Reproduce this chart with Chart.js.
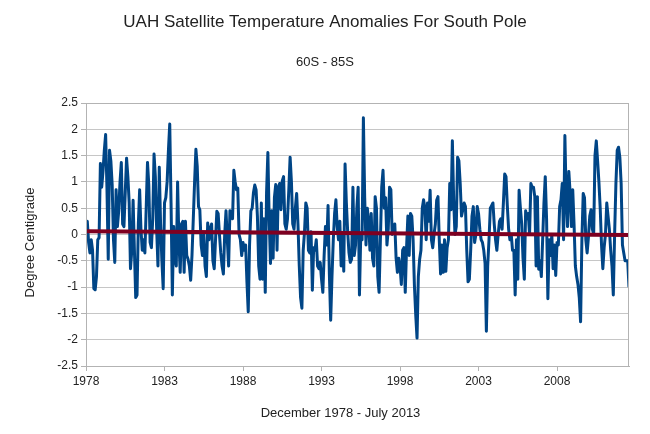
<!DOCTYPE html>
<html>
<head>
<meta charset="utf-8">
<title>UAH Satellite Temperature Anomalies For South Pole</title>
<script src="https://cdn.jsdelivr.net/npm/chart.js@4.4.0/dist/chart.umd.min.js"></script>
<style>
  html, body { margin: 0; padding: 0; background: #fff; }
  #wrap { width: 650px; height: 434px; }
</style>
</head>
<body>
<div id="wrap"><canvas id="uahChart" width="650" height="434"></canvas></div>
<script>
// Monthly anomalies 60S-85S, Dec 1978 - Jul 2013
const anomalies = [
    // Dec 1978 - Apr 1984
    0.2, 0.25, -0.15, -0.35, -0.1, -0.3, -1.03, -1.05, -0.8, -0.1,
    -0.06, 1.35, 0.9, 1.2, 1.6, 1.9, 0.9, -0.47, 1.6, 1.4,
    0.95, -0.1, -0.53, 0.85, 0.15, 0.45, 1.0, 1.37, 0.2, 0.15,
    0.8, 1.45, 1.1, 0.6, -0.65, -0.3, 0.65, -0.3, -1.2, -1.15,
    0.2, 0.85, 0.1, -0.3, -0.1, -0.35, 0.5, 1.37, 0.95, -0.15,
    -0.25, 0.3, 1.53, 1.1, 0.1, -0.6, 1.28, 0.2, -0.5, -1.03,
    0.6, 0.7, 1.0, 1.6, 2.1,
    // May 1984 - Jan 1990
    0.6, -1.15, 0.15, -0.45, -0.6, 1.0, -0.1, -0.72, 0.2, 0.25,
    -0.72, 0.25, -0.4, -0.47, -0.6, -0.87, -0.4, 0.3, 1.0, 1.62,
    1.3, 0.53, 0.47, -0.2, -0.4, 0.0, -0.6, -0.8, 0.22, -0.1,
    0.1, 0.2, -0.5, -0.65, -0.1, 0.44, 0.4, 0.0, -0.35, -0.6,
    -0.75, 0.0, 0.45, -0.1, -0.6, 0.45, 0.35, 0.3, 1.22, 1.0,
    0.85, 0.88, 0.0, -0.1, -0.4, -0.15, -0.3, -0.2, -0.9, -1.47,
    -0.2, 0.45, 0.5, 0.8, 0.94, 0.85, 0.35, -0.6, -0.85,
    // Feb 1990 - Oct 1995
    0.6, -0.85, 0.3, -1.1, 0.8, 1.56, 0.3, -0.55, 0.45, -0.45,
    0.7, 0.95, -0.3, 0.9, 0.97, 0.47, 1.02, 1.1, 0.2, 0.1,
    0.3, 0.85, 1.47, 1.0, 0.2, 0.1, 0.5, 0.78, 0.2, -0.6,
    -1.2, -1.4, -0.3, 0.05, 0.6, 0.5, -0.3, -0.35, 0.05, -1.06,
    -0.25, -0.3, -0.1, -0.6, -0.65, -0.53, -0.85, -1.1, -0.4, 0.15,
    -0.2, 0.55, -0.75, -1.63, -0.8, -0.1, 0.4, 0.66, 0.15, -0.1,
    0.25, -0.6, 0.0, -0.7, 1.34, 0.6, 0.05, -0.35, -0.53,
    // Nov 1995 - Jul 2001
    -0.47, 0.9, -0.4, -0.2, 0.5, 0.9, -1.15, 0.0, -0.1, 2.22,
    0.7, -0.2, 0.5, 0.25, -0.3, 0.4, -0.45, -0.6, 0.72, 0.5,
    -0.8, -1.1, -0.1, 0.9, 1.22, 0.5, 0.7, -0.2, 0.1, 0.9,
    0.85, 0.0, 0.1, 0.2, -0.45, -0.72, -0.45, -0.6, -0.95, -0.3,
    -0.25, -1.1, -0.25, 0.35, -0.4, 0.4, 0.35, -0.1, -0.97, -1.53,
    -1.97, -0.8, -0.47, -0.3, 0.5, 0.66, 0.5, -0.1, 0.6, 0.25,
    0.84, -0.1, -0.25, 0.0, 0.2, 0.65, 0.72, -0.1, -0.75,
    // Aug 2001 - Apr 2007
    -0.2, -0.72, -0.1, -0.7, -0.25, -0.1, 0.97, 0.47, 1.78, 0.66,
    0.0, 0.15, 1.47, 1.4, 0.97, 0.35, 0.47, 0.6, 0.53, -0.3,
    -0.9, -0.85, -0.3, 0.35, 0.53, -0.15, 0.0, 0.53, 0.4, 0.1,
    -0.1, -0.15, -0.3, -0.55, -1.84, -0.6, -0.1, 0.5, 0.55, 0.6,
    0.2, -0.1, -0.3, 0.0, 0.25, 0.3, 0.1, 0.6, 1.15, 1.1,
    0.55, 0.1, -0.1, 0.0, -0.3, -0.3, -1.15, -0.1, -0.85, 0.84,
    0.5, 0.2, -0.45, -0.85, 0.45, 0.3, 0.4, 0.0, 0.97,
    // May 2007 - Jul 2013
    0.9, 0.9, 0.72, -0.6, 0.72, -0.66, -0.5, -0.8, -0.1, 0.6,
    1.1, 0.3, -1.22, -0.1, -0.4, 0.0, -0.65, -0.2, -0.78, -0.15,
    -0.2, 0.53, 0.66, 0.97, -0.1, 1.88, 0.7, 0.15, 1.2, 0.8,
    0.15, 0.85, 0.2, -0.6, -0.8, -0.95, -1.2, -1.66, -0.1, 0.78,
    0.7, -0.1, -0.35, -0.05, 0.35, 0.47, 0.1, 0.0, 1.5, 1.78,
    1.4, 1.0, 0.5, -0.2, -0.65, -0.25, 0.0, 0.6, 0.35, 0.1,
    -0.3, -0.6, -1.15, 0.0, 0.97, 1.6, 1.66, 1.47, 0.97, -0.2,
    -0.35, -0.5, -0.5, -0.5, -1.0
];

// x axis labels, one every 60 months starting at Dec 1978
const tickYears = ['1978', '1983', '1988', '1993', '1998', '2003', '2008'];
const monthsPerTick = 60;

// linear trend end points
const trendStart = 0.06;
const trendEnd = -0.01;

const yMin = -2.5, yMax = 2.5, yStep = 0.5;

const xCaption = 'December 1978 - July 2013';
const yCaption = 'Degree Centigrade';

const lastIndex = anomalies.length - 1;
const seriesPoints = anomalies.map((v, i) => ({ x: i, y: v }));
const trendPoints = [{ x: 0, y: trendStart }, { x: lastIndex, y: trendEnd }];
const tickPositions = tickYears.map((_, k) => k * monthsPerTick);

const FONT = '"Liberation Sans", Arial, sans-serif';
Chart.defaults.font.family = FONT;
Chart.defaults.color = '#222';

// grey frame round the plot area
const plotFrame = {
    id: 'plotFrame',
    afterDatasetsDraw(chart) {
        const { ctx, chartArea: a } = chart;
        ctx.save();
        ctx.strokeStyle = '#b3b3b3';
        ctx.lineWidth = 1;
        ctx.strokeRect(a.left + 0.5, a.top + 0.5, a.right - a.left - 1, a.bottom - a.top);
        ctx.restore();
    }
};

// axis captions, centred a bit off the plot area like the original
const axisCaptions = {
    id: 'axisCaptions',
    afterDraw(chart) {
        const { ctx, chartArea: a } = chart;
        ctx.save();
        ctx.fillStyle = '#222';
        ctx.font = '13px ' + FONT;
        ctx.textAlign = 'center';
        ctx.textBaseline = 'middle';
        ctx.fillText(xCaption, (a.left + a.right) / 2 - 17, a.bottom + 47);
        ctx.translate(30, (a.top + a.bottom) / 2 + 8);
        ctx.rotate(-Math.PI / 2);
        ctx.fillText(yCaption, 0, 0);
        ctx.restore();
    }
};

const ctx = document.getElementById('uahChart').getContext('2d');
new Chart(ctx, {
    type: 'line',
    data: {
        datasets: [
            {
                label: 'UAH 60S - 85S',
                data: seriesPoints,
                borderColor: '#004586',
                borderWidth: 3,
                borderJoinStyle: 'round',
                pointRadius: 0,
                tension: 0,
                fill: false,
                order: 2
            },
            {
                label: 'Linear trend',
                data: trendPoints,
                borderColor: '#7e0021',
                borderWidth: 4,
                pointRadius: 0,
                fill: false,
                order: 1
            }
        ]
    },
    options: {
        responsive: false,
        animation: false,
        devicePixelRatio: 1,
        layout: { padding: 0 },
        plugins: {
            legend: { display: false },
            tooltip: { enabled: false },
            title: {
                display: true,
                text: 'UAH Satellite Temperature Anomalies For South Pole',
                font: { size: 17, weight: 'normal' },
                padding: { top: 12, bottom: 0 }
            },
            subtitle: {
                display: true,
                text: '60S - 85S',
                font: { size: 13 },
                color: '#222',
                padding: { top: 22, bottom: 33 }
            }
        },
        scales: {
            x: {
                type: 'linear',
                min: 0,
                max: lastIndex,
                afterBuildTicks: (scale) => {
                    scale.ticks = tickPositions.map(v => ({ value: v }));
                },
                afterFit: (scale) => { scale.height = 68; },
                ticks: {
                    autoSkip: false,
                    maxRotation: 0,
                    padding: 3,
                    font: { size: 12 },
                    callback: (value) => tickYears[Math.round(value / monthsPerTick)]
                },
                grid: {
                    drawOnChartArea: false,
                    color: '#b3b3b3',
                    tickLength: 5
                },
                border: { color: '#b3b3b3' }
            },
            y: {
                min: yMin,
                max: yMax,
                afterFit: (scale) => { scale.width = 86; },
                ticks: {
                    stepSize: yStep,
                    padding: 3,
                    font: { size: 12 },
                    callback: (value) => String(value)
                },
                grid: {
                    color: '#c6c6c6',
                    tickColor: '#b3b3b3',
                    tickLength: 5
                },
                border: { color: '#b3b3b3' }
            },
            // empty right-hand strip so the titles centre on the whole canvas
            spacer: {
                position: 'right',
                min: 0,
                max: 1,
                afterFit: (scale) => { scale.width = 21; },
                ticks: { display: false },
                grid: { display: false, drawTicks: false },
                border: { display: false }
            }
        }
    },
    plugins: [plotFrame, axisCaptions]
});
</script>
</body>
</html>
